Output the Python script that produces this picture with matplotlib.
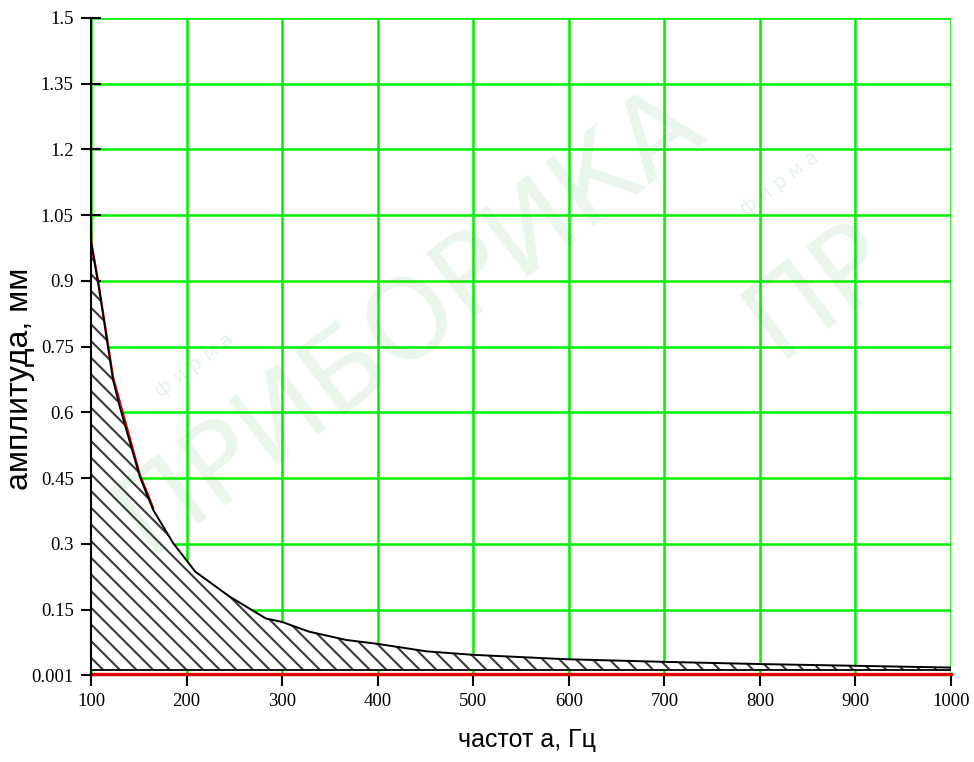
import matplotlib
matplotlib.use("Agg")
import matplotlib.pyplot as plt

# ---- data ----
freq = [100, 108, 123, 130, 151, 165, 186, 209, 245, 283, 300, 328, 367, 400, 451, 500, 597, 700, 800, 900, 1000]
ampl = [0.988, 0.888, 0.675, 0.614, 0.454, 0.378, 0.302, 0.237, 0.180, 0.130, 0.122, 0.100, 0.081, 0.072, 0.055, 0.047, 0.037, 0.031, 0.026, 0.022, 0.018]
red_freq = [100, 100.6, 108.5, 123.5, 151.5, 165.5]
red_ampl = [1.08, 0.99, 0.89, 0.68, 0.458, 0.382]
floor_level = 0.012
red_level = 0.004
x_ticks = [100, 200, 300, 400, 500, 600, 700, 800, 900, 1000]
y_ticks = [0.001, 0.15, 0.3, 0.45, 0.6, 0.75, 0.9, 1.05, 1.2, 1.35, 1.5]
y_tick_labels = ["0.001", "0.15", "0.3", "0.45", "0.6", "0.75", "0.9", "1.05", "1.2", "1.35", "1.5"]
x_label = "частот а, Гц"
y_label = "амплитуда, мм"

plt.rcParams['hatch.linewidth'] = 1.5
plt.rcParams['hatch.color'] = '#3a3a3a'

fig = plt.figure(figsize=(9.74, 7.62), dpi=100)
ax = fig.add_axes([91/974, 1-675/762, (951-91)/974, (675-18)/762])
ax.set_facecolor('none')

ax.set_xlim(100, 1000)
ax.set_ylim(0.001, 1.5)
ax.set_xticks(x_ticks)
ax.set_xticklabels([str(t) for t in x_ticks])
ax.set_yticks(y_ticks)
ax.set_yticklabels(y_tick_labels)

ax.grid(True, color='#00f000', linewidth=1.8, zorder=1)
ax.set_axisbelow(True)

# hatched area under the curve (white face hides the grid)
ax.fill_between(freq, floor_level, ampl, facecolor='white', edgecolor='#3a3a3a',
                hatch='\\\\', linewidth=0, zorder=2)
# boundary of hatched area (bottom + right edge)
ax.plot([freq[0], freq[-1], freq[-1]], [floor_level, floor_level, ampl[-1]],
        color='black', linewidth=1.3, zorder=3)
# red lines
ax.plot(red_freq, red_ampl, color='#e00000', linewidth=1.1, zorder=3)
ax.plot([x_ticks[0], x_ticks[-1]], [red_level, red_level], color='#e00000',
        linewidth=2.4, zorder=4, clip_on=False)
# main curve
ax.plot(freq, ampl, color='black', linewidth=1.4, zorder=5)

for s in ['top', 'right']:
    ax.spines[s].set_visible(False)
ax.spines['left'].set_linewidth(1.5)
ax.spines['bottom'].set_linewidth(1.5)
ax.spines['left'].set_zorder(6)

ax.tick_params(axis='y', direction='inout', length=15, width=1.5, pad=5,
               labelsize=13.5, colors='black')
ax.tick_params(axis='x', direction='out', length=8, width=1.5, pad=5,
               labelsize=13.5, colors='black')
for lab in ax.get_xticklabels() + ax.get_yticklabels():
    lab.set_fontfamily('Liberation Serif')

fig.text(0.541, 0.029, x_label, ha='center', va='center', fontsize=18,
         family='Liberation Sans')
fig.text(0.021, 0.503, y_label, ha='center', va='center', fontsize=23,
         rotation=90, family='Liberation Sans')

# faint watermark
wm_color = '#2ea043'
fig.text(0.42, 0.58, "ПРИБОРИКА", rotation=37, fontsize=80, color=wm_color,
         alpha=0.10, ha='center', va='center', family='DejaVu Sans', zorder=10)
fig.text(0.20, 0.52, "ф и р м а", rotation=37, fontsize=14, color=wm_color,
         alpha=0.12, ha='center', va='center', family='DejaVu Sans', zorder=10)
fig.text(0.84, 0.62, "ПР", rotation=37, fontsize=80, color=wm_color,
         alpha=0.10, ha='center', va='center', family='DejaVu Sans', zorder=10)
fig.text(0.80, 0.76, "ф и р м а", rotation=37, fontsize=14, color=wm_color,
         alpha=0.12, ha='center', va='center', family='DejaVu Sans', zorder=10)

fig.savefig("out.png", dpi=100)
